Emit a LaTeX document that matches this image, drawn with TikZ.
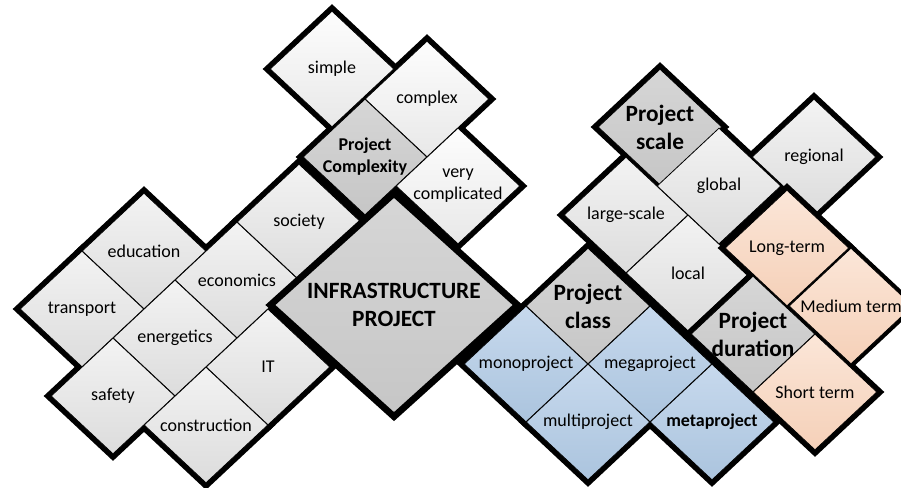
\documentclass[tikz,border=0pt]{standalone}
\usepackage{fontspec}
\setmainfont{Carlito}
\usetikzlibrary{shapes.geometric}

\definecolor{fieldtop}{HTML}{F3F3F3}
\definecolor{fieldbot}{HTML}{DCDCDC}
\definecolor{leveltop}{HTML}{FDFDFD}
\definecolor{levelbot}{HTML}{E8E8E8}
\definecolor{headtop}{HTML}{D6D6D6}
\definecolor{headbot}{HTML}{C6C6C6}
\definecolor{classtop}{HTML}{C7D9ED}
\definecolor{classbot}{HTML}{ABC4DE}
\definecolor{termtop}{HTML}{FBE6D8}
\definecolor{termbot}{HTML}{F5D0B8}

\begin{document}
\begin{tikzpicture}[x=0.75pt,y=-0.75pt,
tile/.style={diamond,draw,line width=0.6pt,minimum width=93pt,minimum height=87pt,
  inner sep=-8pt,align=center,font=\fontsize{13.5}{16.5}\selectfont},
fieldtile/.style={tile,top color=fieldtop,bottom color=fieldbot},
leveltile/.style={tile,top color=leveltop,bottom color=levelbot},
headtile/.style={tile,top color=headtop,bottom color=headbot,font=\bfseries\fontsize{17.5}{21}\selectfont},
classtile/.style={tile,top color=classtop,bottom color=classbot},
termtile/.style={tile,top color=termtop,bottom color=termbot},
hub/.style={diamond,draw,line width=5pt,minimum width=187.5pt,minimum height=169.5pt,
  shape aspect=1.1,inner sep=0pt,top color=headtop,bottom color=headbot,
  align=center,font=\bfseries\fontsize{17.5}{21}\selectfont}
]
\useasboundingbox (0,0) rectangle (901,487);
\tikzstyle{rim}=[line width=7.5pt]

% fields
\foreach \x/\y in {144/251,82/309,237/280,175/338,299/222,113/396,268/367,206/425}
  \draw[rim] (\x,\y) +(-62,0) -- +(0,-58) -- +(62,0) -- +(0,58) -- cycle;
\node[fieldtile] (education) at (144,251) {education};
\node[fieldtile] (transport) at (82,309) {transport};
\node[fieldtile] (economics) at (237,280) {economics};
\node[fieldtile] (energetics) at (175,338) {energetics};
\node[fieldtile] (society) at (299,222) {society};
\node[fieldtile] (safety) at (113,396) {safety};
\node[fieldtile] (it) at (268,367) {IT};
\node[fieldtile] (construction) at (206,425) {construction};

% complexity
\foreach \x/\y in {332/69,427/99,365/157,458/186}
  \draw[rim] (\x,\y) +(-62,0) -- +(0,-58) -- +(62,0) -- +(0,58) -- cycle;
\node[leveltile] (simple) at (332,69) {simple};
\node[leveltile] (complex) at (427,99) {complex};
\node[headtile,font=\bfseries\fontsize{13.5}{16.5}\selectfont] (complexity) at (365,157) {Project\\Complexity};
\node[leveltile] (complicated) at (458,186) {very\\complicated};

% scale
\foreach \x/\y in {660/127,626/215,719/186,814/157,688/273}
  \draw[rim] (\x,\y) +(-62,0) -- +(0,-58) -- +(62,0) -- +(0,58) -- cycle;
\node[headtile] (scale) at (660,127) {Project\\scale};
\node[fieldtile] (largescale) at (626,215) {large-scale};
\node[fieldtile] (global) at (719,186) {global};
\node[fieldtile] (regional) at (814,157) {regional};
\node[fieldtile] (local) at (688,273) {local};

% duration
\foreach \x/\y in {787/248,849/306,753/334,815/392}
  \draw[rim] (\x,\y) +(-62,0) -- +(0,-58) -- +(62,0) -- +(0,58) -- cycle;
\node[termtile] (longterm) at (787,248) {Long-term};
\node[termtile] (mediumterm) at (851,306) {Medium term};
\node[headtile] (duration) at (753,334) {Project\\duration};
\node[termtile] (shortterm) at (815,392) {Short term};

% class
\foreach \x/\y in {588/306,526/364,650/364,588/422,712/422}
  \draw[rim] (\x,\y) +(-62,0) -- +(0,-58) -- +(62,0) -- +(0,58) -- cycle;
\node[headtile] (class) at (588,306) {Project\\class};
\node[classtile] (mono) at (526,364) {monoproject};
\node[classtile] (mega) at (650,364) {megaproject};
\node[classtile] (multi) at (588,422) {multiproject};
\node[classtile,font=\bfseries\fontsize{13.5}{16.5}\selectfont] (meta) at (712,422) {metaproject};

\node[hub] (infra) at (394,305) {INFRASTRUCTURE\\PROJECT};
\end{tikzpicture}
\end{document}
